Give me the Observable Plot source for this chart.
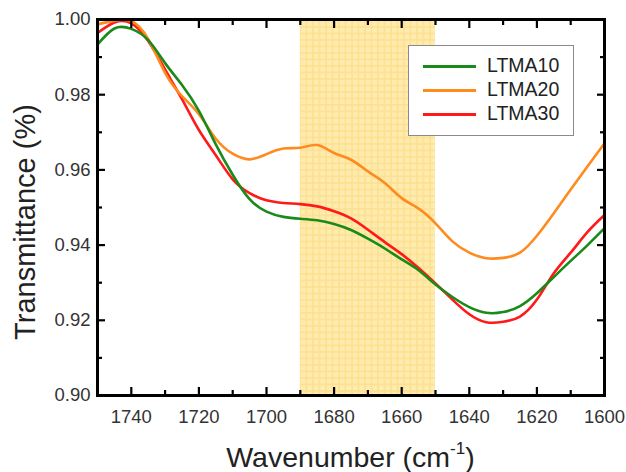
<!DOCTYPE html>
<html>
<head>
<meta charset="utf-8">
<script src="https://cdn.jsdelivr.net/npm/d3@7"></script>
<script src="https://cdn.jsdelivr.net/npm/@observablehq/plot@0.6"></script>
<style>
  html, body { margin: 0; padding: 0; background: #fff; }
  #wrap { position: relative; width: 626px; height: 472px; font-family: "Liberation Sans", Arial, sans-serif; }
  #legend { position: absolute; left: 408px; top: 45px; width: 166px; height: 91px; border: 1.5px solid #8a8a8a; background: #fff; box-sizing: border-box; padding-top: 8px; }
  .row { display: flex; align-items: center; height: 24px; }
  .swatch { width: 53px; height: 3px; margin-left: 14px; margin-right: 11px; }
  .lab { font-size: 19.5px; color: #222; line-height: 1; }
</style>
</head>
<body>
<div id="wrap"></div>
<script>
// ---- data ----
const wavenumber = [1750,1745,1740,1735,1730,1725,1720,1715,1710,1705,1700,1695,1690,1685,1680,1675,1670,1665,1660,1655,1650,1645,1640,1635,1630,1625,1620,1615,1610,1605,1600];
const ltma10 = [0.9933,0.9976,0.9975,0.9945,0.9884,0.9826,0.9757,0.9668,0.9587,0.9522,0.9489,0.9475,0.9470,0.9466,0.9456,0.9440,0.9417,0.9391,0.9362,0.9333,0.9295,0.9262,0.9235,0.9220,0.9222,0.9238,0.9272,0.9315,0.9358,0.9400,0.9445];
const ltma20 = [0.9987,0.9997,0.9996,0.9948,0.9858,0.9796,0.9748,0.9683,0.9643,0.9628,0.9642,0.9657,0.9659,0.9666,0.9645,0.9627,0.9596,0.9565,0.9525,0.9497,0.9458,0.9410,0.9380,0.9365,0.9366,0.9380,0.9425,0.9485,0.9548,0.9610,0.9671];
const ltma30 = [0.9964,0.9992,0.9990,0.9943,0.9867,0.9788,0.9706,0.9639,0.9575,0.9538,0.9519,0.9512,0.9509,0.9503,0.9490,0.9471,0.9441,0.9408,0.9376,0.9339,0.9298,0.9255,0.9216,0.9195,0.9196,0.9210,0.9255,0.9325,0.9380,0.9435,0.9480];
const seriesNames = ["LTMA10", "LTMA20", "LTMA30"];
const seriesColors = ["#1a8a1a", "#ff8a1e", "#ff1a1a"];
const shadedRegion = [{from: 1690, to: 1650}];
const xDomain = [1750, 1600];
const yDomain = [0.90, 1.00];
const xMajor = [1740,1720,1700,1680,1660,1640,1620,1600];
const xMinor = [1730,1710,1690,1670,1650,1630,1610];
const yMajor = [0.90,0.92,0.94,0.96,0.98,1.00];
const yMinor = [0.91,0.93,0.95,0.97,0.99];
const xTitle = "Wavenumber (cm";
const xTitleSup = "-1";
const yTitle = "Transmittance (%)";

const seriesValues = [ltma10, ltma20, ltma30];
const rows = seriesValues.flatMap((vals, i) => vals.map((v, j) => ({series: seriesNames[i], wavenumber: wavenumber[j], value: v})));

const blank = () => "";
const tickStyle = {stroke: "black", strokeWidth: 2.2, label: null, tickFormat: blank};
const drawOrder = ["LTMA30", "LTMA20", "LTMA10"];

const chart = Plot.plot({
  width: 626, height: 472,
  marginTop: 19, marginRight: 22, marginBottom: 77, marginLeft: 97,
  x: {domain: xDomain, label: null},
  y: {domain: yDomain, label: null},
  style: {fontFamily: "Liberation Sans, Arial, sans-serif", background: "white", overflow: "visible"},
  marks: [
    Plot.rect(shadedRegion, {x1: "from", x2: "to", fill: "url(#yellowGrid)"}),
    ...drawOrder.map(name => Plot.line(rows.filter(d => d.series === name), {
      x: "wavenumber", y: "value", stroke: seriesColors[seriesNames.indexOf(name)],
      strokeWidth: 2.6, curve: "natural"
    })),
    Plot.axisX(xMajor, {anchor: "bottom", tickSize: -8, ...tickStyle}),
    Plot.axisX(xMinor, {anchor: "bottom", tickSize: -5, ...tickStyle}),
    Plot.axisX(xMajor, {anchor: "top", tickSize: -8, ...tickStyle}),
    Plot.axisX(xMinor, {anchor: "top", tickSize: -5, ...tickStyle}),
    Plot.axisY(yMajor, {anchor: "left", tickSize: -8, ...tickStyle}),
    Plot.axisY(yMinor, {anchor: "left", tickSize: -5, ...tickStyle}),
    Plot.axisY(yMajor, {anchor: "right", tickSize: -8, ...tickStyle}),
    Plot.axisY(yMinor, {anchor: "right", tickSize: -5, ...tickStyle}),
    Plot.frame({stroke: "black", strokeWidth: 3}),
    Plot.axisX(xMajor, {anchor: "bottom", tickSize: 0, tickPadding: 14, label: null, tickFormat: d3.format("d"), fontSize: 18.5, fill: "#333"}),
    Plot.axisY(yMajor, {anchor: "left", tickSize: 0, tickPadding: 7, label: null, tickFormat: d3.format(".2f"), fontSize: 18.5, fill: "#333"})
  ]
});

// pattern for the shaded band
const svg = d3.select(chart);
const defs = svg.insert("defs", ":first-child");
const pat = defs.append("pattern").attr("id", "yellowGrid").attr("patternUnits", "userSpaceOnUse")
  .attr("width", 6.5).attr("height", 6.5);
pat.append("rect").attr("width", 6.5).attr("height", 6.5).attr("fill", "#feebb0");
pat.append("path").attr("d", "M0,1H6.5M1,0V6.5").attr("stroke", "#fbd46c").attr("stroke-width", 1.4).attr("stroke-opacity", 0.55);

// axis titles
const xr = chart.scale("x").range, yr = chart.scale("y").range;
const cx = (xr[0] + xr[1]) / 2, cy = (yr[0] + yr[1]) / 2;
const xt = svg.append("text").attr("x", cx).attr("y", yr[0] + 72).attr("text-anchor", "middle")
  .attr("font-size", 28.5).attr("fill", "#222");
xt.append("tspan").text(xTitle);
xt.append("tspan").attr("dy", -13).attr("font-size", 17).text(xTitleSup);
xt.append("tspan").attr("dy", 13).text(")");
svg.append("text").attr("transform", `translate(${xr[0] - 62},${cy + 15}) rotate(-90)`)
  .attr("text-anchor", "middle").attr("font-size", 29).attr("fill", "#222").text(yTitle);

const wrap = document.getElementById("wrap");
wrap.appendChild(chart);

// legend
const legend = d3.select(wrap).append("div").attr("id", "legend");
seriesNames.forEach((name, i) => {
  const r = legend.append("div").attr("class", "row");
  r.append("div").attr("class", "swatch").style("background", seriesColors[i]);
  r.append("div").attr("class", "lab").text(name);
});
</script>
</body>
</html>
